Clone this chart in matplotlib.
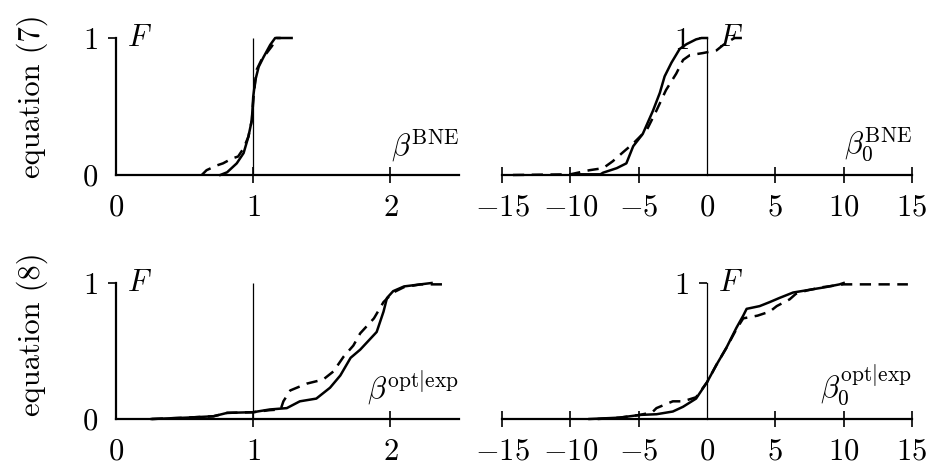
import matplotlib
matplotlib.use("Agg")
import matplotlib.pyplot as plt

plt.rcParams["font.family"] = "serif"
plt.rcParams["font.serif"] = ["cmr10"]
plt.rcParams["mathtext.fontset"] = "cm"
plt.rcParams["axes.formatter.use_mathtext"] = True
plt.rcParams["font.size"] = 22

# empirical distribution functions, equation (7): beta and beta_0
bne_solid_x = [0.76, 0.81, 0.88, 0.93, 0.965, 0.99, 1.0, 1.015, 1.04, 1.075, 1.124, 1.16, 1.28]
bne_solid_F = [0.0, 0.02, 0.085, 0.16, 0.28, 0.40, 0.57, 0.69, 0.79, 0.86, 0.95, 1.0, 1.0]
bne_dash_x = [0.625, 0.66, 0.735, 0.78, 0.845, 0.89, 0.93, 0.965, 0.99, 1.005, 1.026, 1.06, 1.136, 1.17, 1.2]
bne_dash_F = [0.0, 0.035, 0.07, 0.085, 0.12, 0.135, 0.195, 0.28, 0.40, 0.60, 0.77, 0.84, 0.94, 1.0, 1.0]

bne0_solid_x = [-10.0, -7.8, -7.6, -6.6, -5.9, -5.4, -4.7, -3.95, -3.45, -3.1, -2.6, -2.0, -1.5, -0.8, -0.4, 0.0]
bne0_solid_F = [0.005, 0.005, 0.017, 0.05, 0.085, 0.21, 0.30, 0.47, 0.60, 0.72, 0.82, 0.92, 0.955, 0.99, 1.0, 1.0]
bne0_dash_x = [-14.2, -10.0, -8.6, -7.6, -6.9, -6.1, -5.4, -4.4, -3.7, -3.0, -2.25, -1.75, -1.25, -0.3, 0.7, 1.2, 2.0, 2.8]
bne0_dash_F = [0.0, 0.005, 0.035, 0.05, 0.10, 0.17, 0.23, 0.33, 0.47, 0.62, 0.74, 0.84, 0.875, 0.89, 0.91, 0.95, 1.0, 1.0]

# equation (8)
opt_solid_x = [0.26, 0.515, 0.71, 0.81, 1.0, 1.12, 1.245, 1.34, 1.46, 1.56, 1.635, 1.71, 1.78, 1.90, 1.95, 1.975, 2.02, 2.1, 2.22, 2.3]
opt_solid_F = [0.0, 0.01, 0.02, 0.045, 0.05, 0.07, 0.08, 0.13, 0.15, 0.23, 0.32, 0.45, 0.51, 0.64, 0.79, 0.89, 0.94, 0.975, 0.99, 1.0]
opt_dash_x = [0.26, 0.515, 0.71, 0.81, 1.0, 1.12, 1.2, 1.22, 1.27, 1.39, 1.51, 1.585, 1.66, 1.73, 1.78, 1.88, 1.95, 2.02, 2.1, 2.22, 2.42]
opt_dash_F = [0.0, 0.01, 0.02, 0.045, 0.05, 0.065, 0.07, 0.13, 0.21, 0.26, 0.29, 0.35, 0.46, 0.54, 0.63, 0.74, 0.86, 0.93, 0.97, 0.99, 0.99]

opt0_solid_x = [-8.6, -6.4, -4.9, -3.7, -2.5, -1.75, -0.8, 0.0, 0.7, 1.4, 2.15, 2.65, 2.9, 3.85, 4.6, 5.3, 6.3, 7.5, 8.7, 9.7, 10.0]
opt0_solid_F = [0.0, 0.01, 0.03, 0.035, 0.055, 0.09, 0.15, 0.27, 0.40, 0.52, 0.67, 0.76, 0.81, 0.83, 0.86, 0.89, 0.93, 0.95, 0.97, 0.99, 1.0]
opt0_dash_x = [-8.0, -6.4, -4.9, -4.0, -3.7, -2.5, -1.75, -0.8, 0.0, 0.7, 1.4, 2.15, 2.65, 3.7, 4.6, 5.1, 6.05, 6.5, 7.3, 8.5, 10.0, 14.7]
opt0_dash_F = [0.0, 0.01, 0.03, 0.05, 0.08, 0.13, 0.13, 0.16, 0.27, 0.40, 0.52, 0.66, 0.74, 0.76, 0.79, 0.83, 0.88, 0.92, 0.945, 0.97, 0.99, 0.99]

beta_ticks = [0, 1, 2]
beta0_ticks = [-15, -10, -5, 0, 5, 10, 15]

row_labels = ["equation (7)", "equation (8)"]
var_labels = [[r"$\beta^{\mathrm{BNE}}$", r"$\beta_0^{\mathrm{BNE}}$"],
              [r"$\beta^{\mathrm{opt|exp}}$", r"$\beta_0^{\mathrm{opt|exp}}$"]]

fig = plt.figure(figsize=(9.34, 4.70), dpi=100)

W, H = 934, 470
def px_axes(x0, x1, y0, y1):
    # pixel box -> figure fractions (y0 = F=0 line, y1 = F=1 line)
    return fig.add_axes([x0 / W, 1 - y0 / H, (x1 - x0) / W, (y0 - y1) / H])

axes = [[px_axes(116, 459, 175, 38), px_axes(502, 912, 175, 38)],
        [px_axes(116, 459, 419, 283), px_axes(502, 912, 419, 283)]]

curves = [[(bne_solid_x, bne_solid_F, bne_dash_x, bne_dash_F),
           (bne0_solid_x, bne0_solid_F, bne0_dash_x, bne0_dash_F)],
          [(opt_solid_x, opt_solid_F, opt_dash_x, opt_dash_F),
           (opt0_solid_x, opt0_solid_F, opt0_dash_x, opt0_dash_F)]]

for r in range(2):
    for c in range(2):
        ax = axes[r][c]
        sx, sF, dx, dF = curves[r][c]
        ax.plot(sx, sF, color="black", lw=1.8, clip_on=False, zorder=3)
        ax.plot(dx, dF, color="black", lw=1.8, ls=(0, (4.5, 3)), clip_on=False, zorder=3)

        ax.set_ylim(0, 1)
        for s in ["top", "right"]:
            ax.spines[s].set_visible(False)
        ax.spines["bottom"].set_linewidth(1.6)
        ax.spines["left"].set_bounds(0, 1)

        if c == 0:
            ax.set_xlim(0, 2.5)
            ax.set_xticks(beta_ticks, [f"${t}$" for t in beta_ticks])
            ax.vlines(1, 0, 1, color="black", lw=0.9)
            ax.spines["left"].set_linewidth(1.6)
            ax.set_yticks([0, 1], ["$0$", "$1$"])
            ax.yaxis.get_major_ticks()[0].tick1line.set_visible(False)
            ax.xaxis.get_major_ticks()[0].tick1line.set_visible(False)
        else:
            ax.set_xlim(-15, 15)
            ax.set_xticks(beta0_ticks, [f"${t}$" if t >= 0 else f"$-{-t}$" for t in beta0_ticks])
            ax.spines["left"].set_position(("data", 0))
            ax.spines["left"].set_linewidth(0.9)
            ax.set_yticks([1], ["$1$"])
            ax.xaxis.get_major_ticks()[3].tick1line.set_visible(False)

        ax.tick_params(axis="x", direction="inout", length=12, width=1.2, pad=8)
        ax.tick_params(axis="y", direction="out", length=6, width=1.2, pad=7)
        ax.patch.set_visible(False)

        ax.annotate("$F$", xy=(0, 1), xytext=(8, 0), textcoords="offset points",
                    ha="left", va="center")
        ax.text(1.0, 0.08, var_labels[r][c], transform=ax.transAxes,
                ha="right", va="bottom")

fig.text(32 / W, 1 - 96 / H, row_labels[0], rotation=90, ha="center", va="center")
fig.text(32 / W, 1 - 334 / H, row_labels[1], rotation=90, ha="center", va="center")

fig.savefig("out.png", dpi=100)
